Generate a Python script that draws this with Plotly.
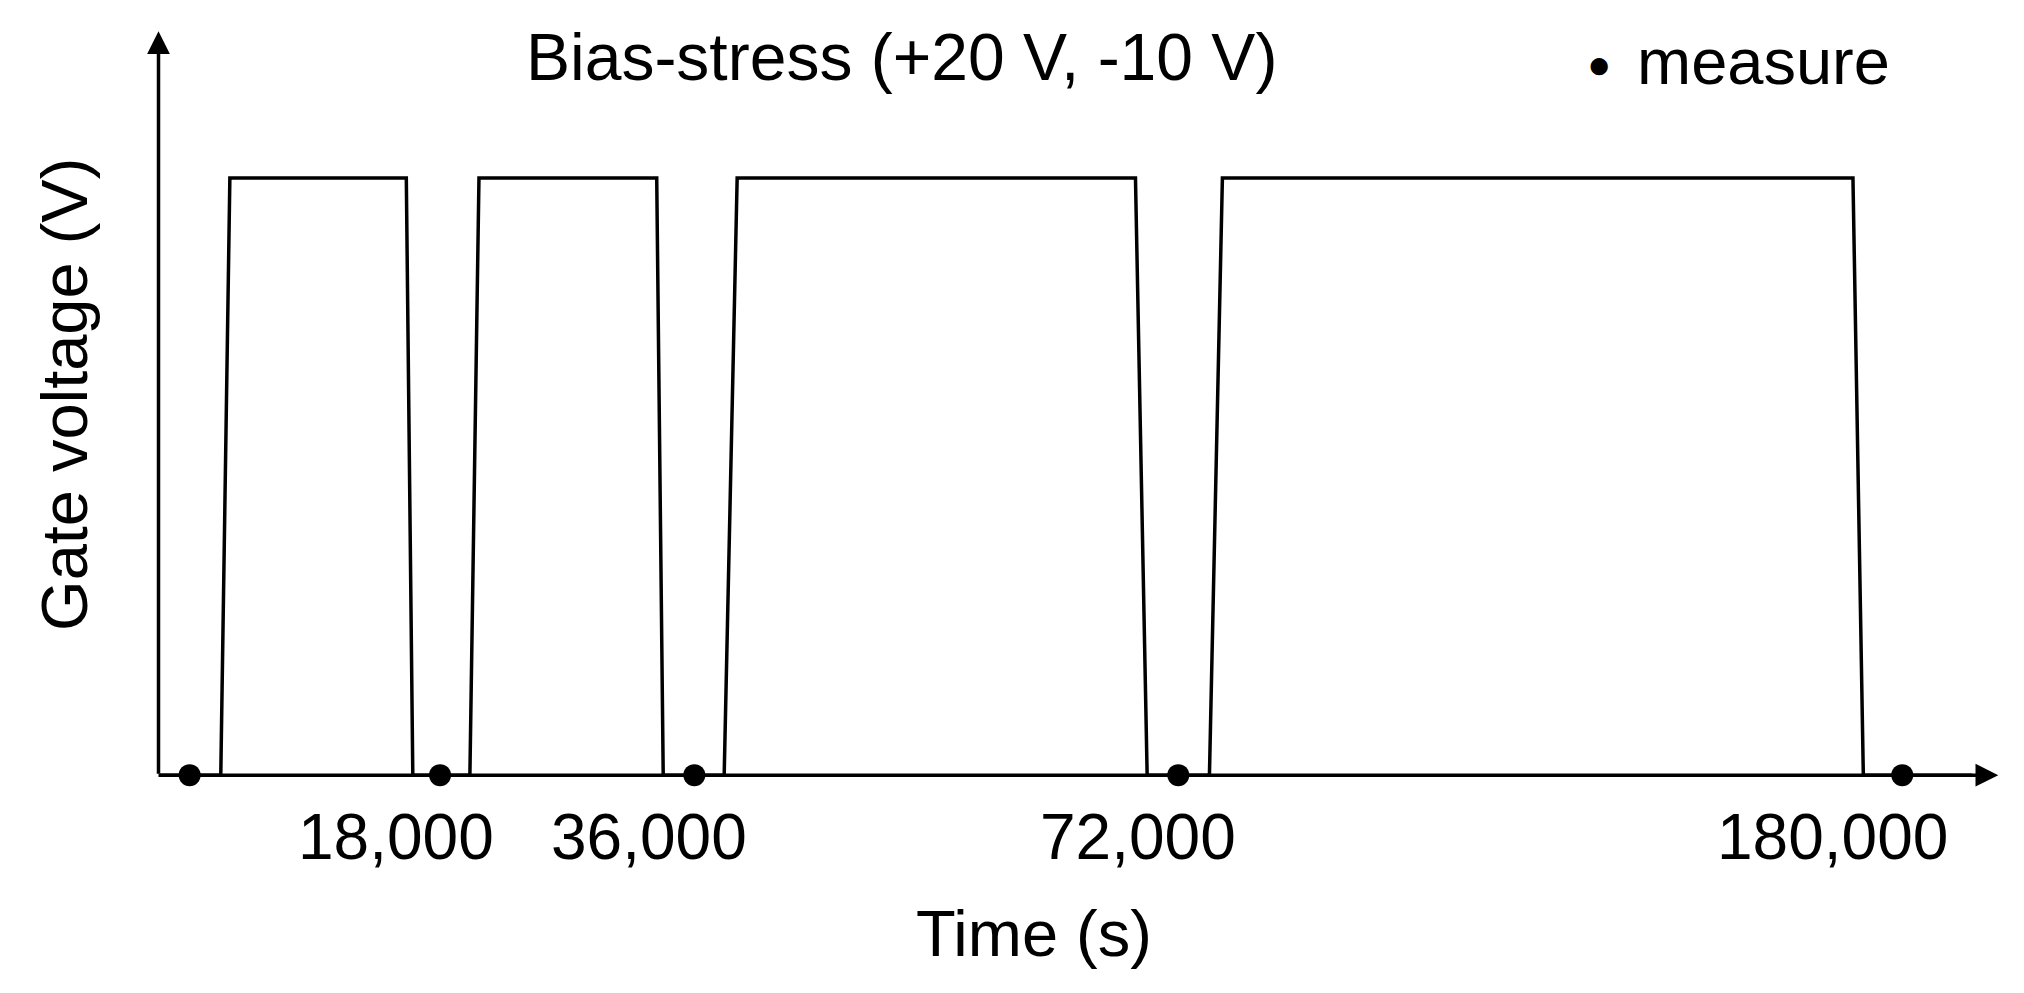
import plotly.graph_objects as go

# schematic time axis (arbitrary schematic units), voltage level (0 low, 1 high)
pulse_x = [122, 170, 177, 313, 318, 362, 369, 506, 511, 558, 568, 875, 884, 932, 942, 1428, 1436, 1520]
pulse_y = [0, 0, 1, 1, 0, 0, 1, 1, 0, 0, 1, 1, 0, 0, 1, 1, 0, 0]
measure_x = [146, 339, 535, 908, 1466]
measure_y = [0, 0, 0, 0, 0]
tick_pos = [305, 500, 877, 1412]
tick_labels = ["18,000", "36,000", "72,000", "180,000"]

F = "Liberation Sans, Arial, sans-serif"
fig = go.Figure()
fig.add_trace(go.Scatter(x=pulse_x, y=pulse_y, mode="lines",
                         line=dict(color="black", width=3.5), cliponaxis=False))
fig.add_trace(go.Scatter(x=measure_x, y=measure_y, mode="markers",
                         marker=dict(color="black", size=22), cliponaxis=False))

ann = []
ann.append(dict(x=1540, y=0, ax=122, ay=0, xref="x", yref="y", axref="x", ayref="y",
                showarrow=True, arrowhead=2, arrowsize=1.3, arrowwidth=3.5, arrowcolor="black", text=""))
ann.append(dict(x=122, y=1.2457, ax=122, ay=0, xref="x", yref="y", axref="x", ayref="y",
                showarrow=True, arrowhead=2, arrowsize=1.3, arrowwidth=3.5, arrowcolor="black", text=""))
for p, t in zip(tick_pos, tick_labels):
    ann.append(dict(x=p, y=0, xref="x", yref="y", yshift=-62, text=t, showarrow=False,
                    font=dict(family=F, size=64, color="black")))
ann.append(dict(x=797, y=0, xref="x", yref="y", yshift=-158, text="Time (s)", showarrow=False,
                font=dict(family=F, size=65, color="black")))
ann.append(dict(x=50, y=(598-305)/460, xref="x", yref="y", text="Gate voltage (V)", textangle=-90,
                showarrow=False, font=dict(family=F, size=65, color="black")))
ann.append(dict(x=695, y=(598-45)/460, xref="x", yref="y", text="Bias-stress (+20 V, -10 V)",
                showarrow=False, font=dict(family=F, size=66, color="black")))
ann.append(dict(x=1260, y=(598-48)/460, xref="x", yref="y", xanchor="left", text="measure",
                showarrow=False, font=dict(family=F, size=65, color="black")))
ann.append(dict(x=1232, y=(598-50)/460, xref="x", yref="y", text="●",
                showarrow=False, font=dict(family=F, size=40, color="black")))

fig.update_layout(
    width=2024, height=993, paper_bgcolor="white", plot_bgcolor="white",
    margin=dict(l=0, r=0, t=0, b=0), showlegend=False, annotations=ann,
    xaxis=dict(range=[6, 1566], visible=False),
    yaxis=dict(range=[(598-765-7)/460, (598-7)/460], visible=False),
)
fig.write_html("out.html")
